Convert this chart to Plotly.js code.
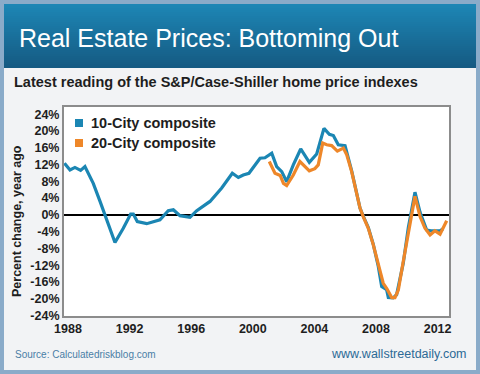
<!DOCTYPE html>
<html>
<head>
<meta charset="utf-8">
<script src="https://cdn.plot.ly/plotly-3.0.1.min.js"></script>
<style>
  html, body { margin: 0; padding: 0; background: #f2f3f5; }
  #chart { width: 480px; height: 374px; }
</style>
</head>
<body>
<div id="chart"></div>
<script>
// ---- Data ----
const titleText = "Real Estate Prices: Bottoming Out";
const subtitleText = "Latest reading of the S&P/Case-Shiller home price indexes";
const yTitleText = "Percent change, year ago";
const sourceText = "Source: Calculatedriskblog.com";
const siteText = "www.wallstreetdaily.com";

const seriesNames = ["10-City composite", "20-City composite"];

const years10 = [1987.77,1988.13,1988.45,1988.82,1989.10,1989.64,1990.08,1990.40,1991.05,1991.59,
  1992.07,1992.24,1992.50,1993.11,1993.65,1993.97,1994.51,1994.84,1995.27,1995.92,
  1996.36,1997.22,1997.98,1998.67,1999.06,1999.38,1999.75,2000.19,2000.47,2000.79,
  2001.23,2001.55,2001.88,2002.20,2002.63,2003.11,2003.67,2004.15,2004.62,2004.97,
  2005.23,2005.55,2005.99,2006.42,2006.96,2007.17,2007.50,2007.82,2008.15,2008.37,
  2008.69,2008.80,2009.12,2009.34,2009.77,2010.10,2010.53,2010.86,2011.29,2011.57,
  2012.16,2012.37];
const city10 = [12.3,10.7,11.3,10.6,11.5,7.5,3.2,-0.2,-6.6,-3.2,
  0.2,0.2,-1.6,-2.1,-1.6,-1.2,1.0,1.2,-0.2,-0.6,
  1.0,3.2,6.4,9.9,8.9,9.5,9.9,12.0,13.5,13.6,
  14.7,11.5,10.3,7.9,11.9,15.7,12.5,14.5,20.6,19.2,
  18.9,16.7,16.5,10.5,1.6,-0.3,-3.0,-7.0,-12.3,-17.1,
  -17.8,-19.7,-19.8,-19.0,-11.5,-3.0,5.4,0.6,-3.6,-3.8,
  -3.8,-3.3];

const years20 = [2001.07,2001.44,2001.78,2001.99,2002.20,2002.63,2003.06,2003.67,2004.03,2004.25,
  2004.54,2004.80,2005.12,2005.49,2005.88,2006.10,2006.42,2006.96,2007.17,2007.50,
  2007.82,2008.15,2008.47,2008.69,2009.02,2009.23,2009.45,2009.77,2010.10,2010.42,
  2010.53,2010.86,2011.18,2011.51,2011.83,2012.16,2012.59];
const city20 = [12.7,9.9,9.4,7.5,7.0,9.5,12.7,10.5,11.0,11.9,
  17.1,16.7,16.5,15.2,15.9,14.3,10.3,1.6,-0.4,-3.2,
  -7.1,-11.9,-16.3,-17.5,-19.7,-19.7,-17.9,-11.1,-4.0,2.4,
  4.4,-0.4,-3.2,-4.8,-3.8,-4.6,-1.4];

const xTickVals = [1988,1992,1996,2000,2004,2008,2012];
const xTickText = ["1988","1992","1996","2000","2004","2008","2012"];
const yTickVals = [-24,-20,-16,-12,-8,-4,0,4,8,12,16,20,24];
const yTickText = ["-24%","-20%","-16%","-12%","-8%","-4%","0%","4%","8%","12%","16%","20%","24%"];

// ---- Styling / geometry ----
const W = 480, H = 374;
const M = {l: 64, r: 31, t: 107, b: 58};
const PW = W - M.l - M.r, PH = H - M.t - M.b;
const px = p => (p - M.l) / PW;
const py = p => (H - M.b - p) / PH;

const blue = "#1b86b3";
const orange = "#ee8729";
const FONT = "Liberation Sans, Arial, sans-serif";

const traces = [
  {x: years10, y: city10, type: "scatter", mode: "lines", name: seriesNames[0],
   line: {color: blue, width: 3.2}, showlegend: false, hoverinfo: "skip"},
  {x: years20, y: city20, type: "scatter", mode: "lines", name: seriesNames[1],
   line: {color: orange, width: 3.2}, showlegend: false, hoverinfo: "skip"}
];

// Header band gradient
const shapes = [];
const bandTop = 4, bandBot = 68, N = 32;
const c0 = [29, 134, 181], c1 = [21, 90, 130];
for (let i = 0; i < N; i++) {
  const f = i / (N - 1);
  const c = c0.map((v, k) => Math.round(v + (c1[k] - v) * f));
  const y0 = bandTop + (bandBot - bandTop) * i / N;
  const y1 = bandTop + (bandBot - bandTop) * (i + 1) / N + 0.6;
  shapes.push({type: "rect", xref: "paper", yref: "paper",
    x0: px(4), x1: px(476), y0: py(Math.min(y1, bandBot)), y1: py(y0),
    fillcolor: `rgb(${c[0]},${c[1]},${c[2]})`, line: {width: 0}});
}
// outer border
shapes.push({type: "rect", xref: "paper", yref: "paper",
  x0: px(2), x1: px(478), y0: py(372), y1: py(2),
  fillcolor: "rgba(0,0,0,0)", line: {color: "#8aabc9", width: 4}});
// legend squares
const legendColors = [blue, orange];
const legendRows = [123, 143];
legendRows.forEach((cy, i) => {
  shapes.push({type: "rect", xref: "paper", yref: "paper",
    x0: px(75), x1: px(83), y0: py(cy + 4), y1: py(cy - 4),
    fillcolor: legendColors[i], line: {width: 0}});
});

const annotations = [
  {text: titleText, x: px(17), y: py(38), xanchor: "left", yanchor: "middle",
   font: {family: FONT, size: 25, color: "#ffffff"}},
  {text: subtitleText, x: px(12), y: py(82), xanchor: "left", yanchor: "middle",
   font: {family: FONT, size: 14.5, color: "#1e1e1e", weight: 700}},
  {text: yTitleText, x: px(17), y: py(221), xanchor: "center", yanchor: "middle", textangle: -90,
   font: {family: FONT, size: 12.5, color: "#1e1e1e", weight: 700}},
  {text: sourceText, x: px(13), y: py(354), xanchor: "left", yanchor: "middle",
   font: {family: FONT, size: 10, color: "#4a7ea6"}},
  {text: siteText, x: px(469), y: py(354), xanchor: "right", yanchor: "middle",
   font: {family: FONT, size: 12.5, color: "#2d6a95"}}
];
seriesNames.forEach((nm, i) => {
  annotations.push({text: nm, x: px(89), y: py(legendRows[i]), xanchor: "left", yanchor: "middle",
    font: {family: FONT, size: 14.5, color: "#1e1e1e", weight: 700}});
});
annotations.forEach(a => { a.xref = "paper"; a.yref = "paper"; a.showarrow = false; });

const layout = {
  width: W, height: H,
  margin: M,
  paper_bgcolor: "#f2f3f5",
  plot_bgcolor: "#ffffff",
  showlegend: false,
  font: {family: FONT, color: "#1e1e1e"},
  xaxis: {
    range: [1987.74, 2012.74], tickmode: "array", tickvals: xTickVals, ticktext: xTickText,
    showgrid: false, zeroline: false, showline: true, mirror: true,
    linecolor: "#8c8c8c", linewidth: 2, ticks: "",
    tickfont: {family: FONT, size: 12.5, color: "#1e1e1e", weight: 700}
  },
  yaxis: {
    range: [-24.1, 25.7], tickmode: "array", tickvals: yTickVals, ticktext: yTickText,
    showgrid: false, zeroline: true, zerolinecolor: "#000000", zerolinewidth: 2,
    showline: true, mirror: true, linecolor: "#8c8c8c", linewidth: 2, ticks: "",
    tickfont: {family: FONT, size: 12.5, color: "#1e1e1e", weight: 700}
  },
  shapes: shapes,
  annotations: annotations
};

Plotly.newPlot("chart", traces, layout, {displayModeBar: false, staticPlot: true});
</script>
</body>
</html>
